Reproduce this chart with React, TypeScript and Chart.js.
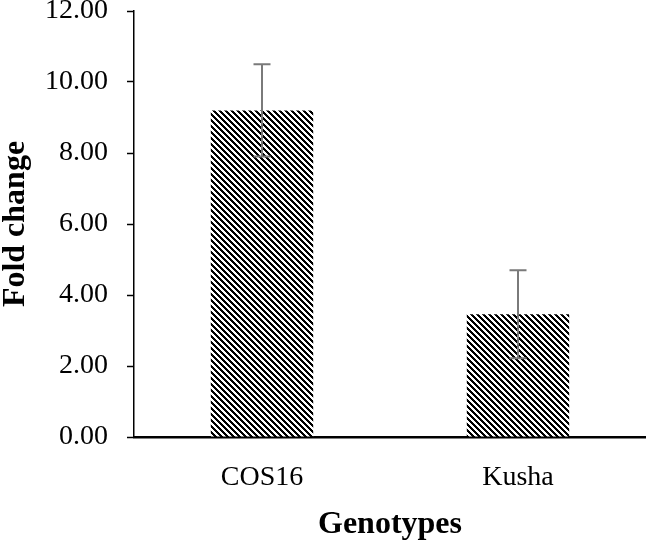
import React, { useEffect, useRef } from "react";
import { Chart, registerables } from "chart.js";

Chart.register(...registerables);

const categories = ["COS16", "Kusha"];
const foldChange = [9.2, 3.46];
const errors = [1.3, 1.24];
const yTicks = [0, 2, 4, 6, 8, 10, 12];

function makePattern(): CanvasPattern | string {
  const size = 6;
  const c = document.createElement("canvas");
  c.width = size;
  c.height = size;
  const ctx = c.getContext("2d");
  if (!ctx) return "#000";
  const img = ctx.createImageData(size, size);
  for (let y = 0; y < size; y++) {
    for (let x = 0; x < size; x++) {
      const k = (((x - y) % size) + size) % size;
      const black = k < 3;
      const i = (y * size + x) * 4;
      const v = black ? 0 : 255;
      img.data[i] = v;
      img.data[i + 1] = v;
      img.data[i + 2] = v;
      img.data[i + 3] = 255;
    }
  }
  ctx.putImageData(img, 0, 0);
  return ctx.createPattern(c, "repeat") || "#000";
}

const errorBarPlugin = {
  id: "errorBars",
  afterDatasetsDraw(chart: any) {
    const ctx = chart.ctx;
    const meta = chart.getDatasetMeta(0);
    const y = chart.scales.y;
    ctx.save();
    ctx.strokeStyle = "#7a7a7a";
    ctx.lineWidth = 2;
    meta.data.forEach((bar: any, i: number) => {
      const x = bar.x;
      const top = y.getPixelForValue(foldChange[i] + errors[i]);
      const bot = y.getPixelForValue(foldChange[i] - errors[i]);
      ctx.beginPath();
      ctx.moveTo(x, top);
      ctx.lineTo(x, bot);
      ctx.moveTo(x - 8.5, top);
      ctx.lineTo(x + 8.5, top);
      ctx.moveTo(x - 8.5, bot);
      ctx.lineTo(x + 8.5, bot);
      ctx.stroke();
    });
    ctx.restore();
  },
};

export default function App() {
  const ref = useRef<HTMLCanvasElement>(null);
  useEffect(() => {
    if (!ref.current) return;
    const pattern = makePattern();
    const chart = new Chart(ref.current, {
      type: "bar",
      data: {
        labels: categories,
        datasets: [
          {
            data: foldChange,
            backgroundColor: pattern as any,
            borderWidth: 0,
            categoryPercentage: 1,
            barPercentage: 0.4,
          },
        ],
      },
      options: {
        animation: false,
        responsive: false,
        layout: { padding: { top: 0, right: 0, left: 0, bottom: 3 } },
        plugins: { legend: { display: false }, tooltip: { enabled: false } },
        scales: {
          x: {
            grid: { display: false, drawTicks: false },
            border: { color: "#000", width: 2.5 },
            afterFit: (axis: any) => {
              axis.height = 104;
            },
            ticks: {
              color: "#000",
              padding: 29,
              font: { family: "Liberation Serif", size: 28, lineHeight: 0.8 },
            },
            title: {
              display: true,
              text: "Genotypes",
              color: "#000",
              padding: { top: 18, bottom: 0 },
              font: { family: "Liberation Serif", size: 32, weight: "bold", lineHeight: 1 },
            },
          },
          y: {
            min: 0,
            max: 12,
            afterBuildTicks: (axis: any) => {
              axis.ticks = yTicks.map((v) => ({ value: v }));
            },
            afterFit: (axis: any) => {
              axis.width = 134;
              axis.paddingTop = 11;
              axis.paddingBottom = 0;
            },
            grid: {
              drawOnChartArea: false,
              drawTicks: true,
              tickLength: 7,
              tickColor: "#000",
              tickWidth: 1.5,
            },
            border: { color: "#000", width: 1.5 },
            ticks: {
              color: "#000",
              padding: 19,
              font: { family: "Liberation Serif", size: 28, lineHeight: 1 },
              callback: (v: any) => Number(v).toFixed(2),
            },
            title: {
              display: true,
              text: "Fold change",
              color: "#000",
              padding: { top: 0, bottom: 0 },
              font: { family: "Liberation Serif", size: 32, weight: "bold", lineHeight: 1 },
            },
          },
        },
      },
      plugins: [errorBarPlugin],
    });
    return () => chart.destroy();
  }, []);
  return (
    <div style={{ position: "fixed", left: 0, top: 0, width: 646, height: 544, background: "#fff" }}>
      <canvas ref={ref} width={646} height={544} style={{ width: 646, height: 544 }} />
    </div>
  );
}
